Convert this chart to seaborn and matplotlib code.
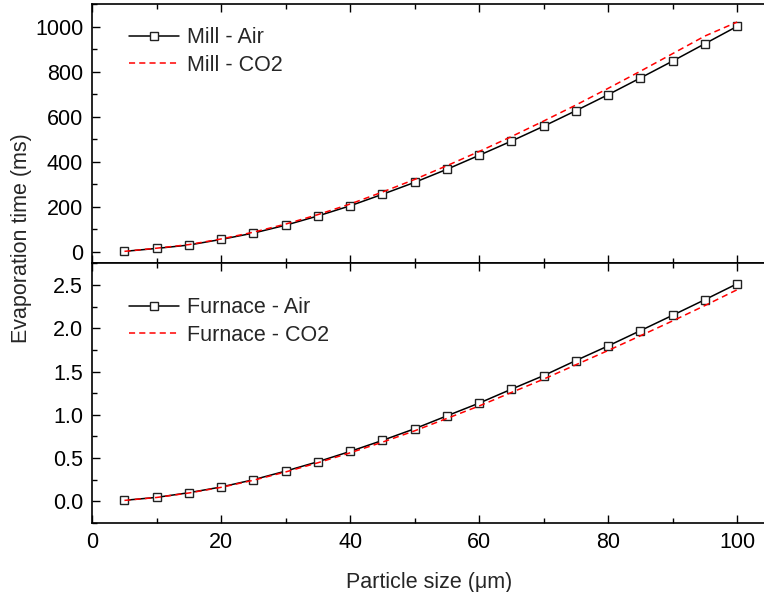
import numpy as np
import pandas as pd
import matplotlib
matplotlib.use("Agg")
import matplotlib.pyplot as plt
import seaborn as sns
from matplotlib.ticker import MultipleLocator

# ---- data ----
particle_size = [5, 10, 15, 20, 25, 30, 35, 40, 45, 50,
                 55, 60, 65, 70, 75, 80, 85, 90, 95, 100]
mill_air = [3, 16, 31, 56, 84, 119, 160, 205, 256, 309,
            367, 429, 492, 558, 627, 698, 772, 847, 924, 1001]
mill_co2 = [3, 17, 33, 58, 88, 124, 166, 213, 266, 322,
            383, 446, 512, 581, 652, 726, 802, 880, 958, 1020]
furnace_air = [0.012, 0.046, 0.100, 0.166, 0.250, 0.350, 0.458, 0.577, 0.704, 0.839,
               0.988, 1.135, 1.296, 1.453, 1.627, 1.796, 1.972, 2.150, 2.330, 2.514]
furnace_co2 = [0.011, 0.045, 0.097, 0.162, 0.244, 0.340, 0.446, 0.561, 0.684, 0.815,
               0.958, 1.102, 1.258, 1.412, 1.578, 1.743, 1.913, 2.085, 2.262, 2.445]

top_labels = ["Mill - Air", "Mill - CO2"]
bottom_labels = ["Furnace - Air", "Furnace - CO2"]
xlabel = "Particle size (\u03bcm)"
ylabel = "Evaporation time (ms)"

sns.set_style("ticks")
plt.rcParams['font.family'] = ['Liberation Sans', 'DejaVu Sans']
FS = 15.5
plt.rcParams['font.size'] = FS

fig = plt.figure(figsize=(7.64, 5.92), dpi=100)
left = 92.2 / 764
width = 674 / 764
ax_top = fig.add_axes([left, 1 - 263.3 / 592, width, (263.3 - 4) / 592])
ax_bot = fig.add_axes([left, 1 - 523 / 592, width, (523 - 263.3) / 592])

df_top = pd.DataFrame({"x": particle_size, "air": mill_air, "co2": mill_co2})
df_bot = pd.DataFrame({"x": particle_size, "air": furnace_air, "co2": furnace_co2})

def draw(ax, df, labels):
    sns.lineplot(data=df, x="x", y="air", ax=ax, color="black", linewidth=1.1,
                 marker="s", markersize=5.3, markerfacecolor="white",
                 markeredgecolor="#222222", markeredgewidth=1.0, label=labels[0])
    sns.lineplot(data=df, x="x", y="co2", ax=ax, color="red", linewidth=1.1,
                 label=labels[1])
    ax.lines[-1].set_dashes([4, 2.7])
    ax.set_xlim(0, 104.5)
    ax.xaxis.set_major_locator(MultipleLocator(20))
    ax.xaxis.set_minor_locator(MultipleLocator(10))
    ax.tick_params(which="both", direction="in", top=True, right=False,
                   bottom=True, left=True, colors="black", labelsize=FS)
    ax.tick_params(which="major", length=6, width=1, pad=6.5)
    ax.tick_params(which="minor", length=3.5, width=1)
    for s in ["left", "top", "bottom"]:
        ax.spines[s].set_linewidth(1.2)
        ax.spines[s].set_color("black")
    ax.spines["right"].set_visible(False)
    ax.set_ylabel("")

draw(ax_top, df_top, top_labels)
draw(ax_bot, df_bot, bottom_labels)

ax_top.set_ylim(-50, 1100)
ax_top.yaxis.set_major_locator(MultipleLocator(200))
ax_top.yaxis.set_minor_locator(MultipleLocator(100))
ax_top.tick_params(labelbottom=False)
ax_top.set_xlabel("")

ax_bot.set_ylim(-0.25, 2.75)
ax_bot.yaxis.set_major_locator(MultipleLocator(0.5))
ax_bot.yaxis.set_minor_locator(MultipleLocator(0.25))
ax_bot.yaxis.set_major_formatter(matplotlib.ticker.FormatStrFormatter("%.1f"))
ax_bot.set_xlabel(xlabel, fontsize=FS, labelpad=14)

for ax, y in [(ax_top, 0.91), (ax_bot, 0.87)]:
    ax.legend(loc="upper left", bbox_to_anchor=(0.055, y), frameon=False,
              fontsize=FS, borderpad=0, borderaxespad=0, handlelength=2.3,
              handletextpad=0.4, labelspacing=0.3)

fig.text(0.028, 1 - 238 / 592, ylabel, rotation=90, ha="center", va="center",
         fontsize=FS)

fig.savefig("out.png", dpi=100)
